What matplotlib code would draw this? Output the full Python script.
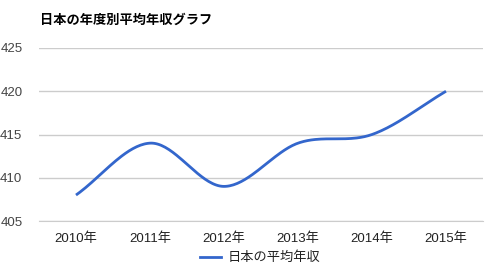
import numpy as np
import matplotlib
matplotlib.use("Agg")
import matplotlib.pyplot as plt
from matplotlib.lines import Line2D

plt.rcParams['font.family'] = ['Liberation Sans', 'Noto Sans CJK JP', 'DejaVu Sans']

years = ["2010年", "2011年", "2012年", "2013年", "2014年", "2015年"]
income = [408, 414, 409, 414, 415, 420]
title = "日本の年度別平均年収グラフ"
series_name = "日本の平均年収"


def smooth(xs, ys, n=40, t=0.5):
    # cardinal spline through the points (like a "function" curve)
    xs = np.asarray(xs, float)
    ys = np.asarray(ys, float)
    px = np.concatenate([[2 * xs[0] - xs[1]], xs, [2 * xs[-1] - xs[-2]]])
    py = np.concatenate([[2 * ys[0] - ys[1]], ys, [2 * ys[-1] - ys[-2]]])
    outx, outy = [], []
    for i in range(1, len(px) - 2):
        s = np.linspace(0, 1, n)
        h00 = 2 * s**3 - 3 * s**2 + 1
        h10 = s**3 - 2 * s**2 + s
        h01 = -2 * s**3 + 3 * s**2
        h11 = s**3 - s**2
        mx0 = t * (px[i + 1] - px[i - 1]); my0 = t * (py[i + 1] - py[i - 1])
        mx1 = t * (px[i + 2] - px[i]); my1 = t * (py[i + 2] - py[i])
        outx.extend(h00 * px[i] + h10 * mx0 + h01 * px[i + 1] + h11 * mx1)
        outy.extend(h00 * py[i] + h10 * my0 + h01 * py[i + 1] + h11 * my1)
    return np.array(outx), np.array(outy)


fig = plt.figure(figsize=(4.92, 2.76), dpi=100)
ax = fig.add_axes([39 / 492, 55 / 276, 444 / 492, 173 / 276])

x = np.arange(len(years))
sx, sy = smooth(x, income)
ax.plot(sx, sy, color="#3366cc", lw=2, solid_capstyle="butt")

ax.set_xlim(-0.5, len(years) - 0.5)
ax.set_ylim(405, 425)
ax.set_yticks([405, 410, 415, 420, 425])
ax.set_xticks(x)
ax.set_xticklabels(years)
ax.grid(axis="y", color="#cccccc", lw=1)
ax.set_axisbelow(True)
for s in ax.spines.values():
    s.set_visible(False)
ax.spines["bottom"].set_visible(True)
ax.spines["bottom"].set_color("#cccccc")
ax.tick_params(length=0, labelsize=9.5, colors="#222222")
ax.tick_params(axis="y", pad=12, colors="#444444")
ax.tick_params(axis="x", pad=8)

fig.text(40 / 492, 1 - 20 / 276, title, fontsize=9.5, fontweight="bold",
         color="#000000", va="center", ha="left")

leg_handle = Line2D([], [], color="#3366cc", lw=2)
fig.legend([leg_handle], [series_name], loc="center", bbox_to_anchor=(260 / 492, 1 - 258 / 276),
           frameon=False, fontsize=9.5, handlelength=1.6, handletextpad=0.5,
           labelcolor="#222222")

fig.savefig("out.png", dpi=100)
